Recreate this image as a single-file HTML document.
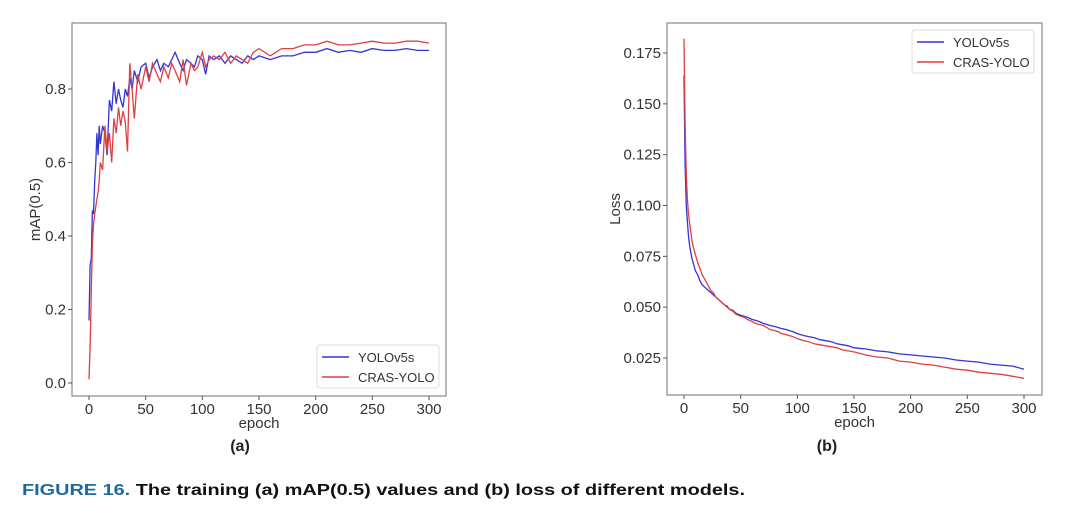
<!DOCTYPE html>
<html><head><meta charset="utf-8"><style>
body{margin:0;background:#fff}
svg text{font-family:"Liberation Sans",sans-serif}
</style></head><body>
<svg id="fig" width="1080" height="523" xmlns="http://www.w3.org/2000/svg">
<rect width="1080" height="523" fill="#fff"/>
<g id="chartA"></g>
<g id="chartB"></g>
<text x="240" y="451" font-size="16" font-weight="bold" text-anchor="middle" fill="#222">(a)</text>
<text x="827" y="451" font-size="16" font-weight="bold" text-anchor="middle" fill="#222">(b)</text>
<text x="22" y="495" font-size="16" font-weight="bold" textLength="723" lengthAdjust="spacingAndGlyphs"><tspan fill="#1f6a9c">FIGURE 16.</tspan><tspan fill="#111">  The training (a) mAP(0.5) values and (b) loss of different models.</tspan></text>
</svg>
<script>
const epochs=[0,1,2,3,4,5,6,7,8,9,10,12,14,16,18,20,22,24,26,28,30,32,34,36,38,40,43,46,50,53,56,60,63,66,70,73,76,80,83,86,90,93,96,100,103,106,110,115,120,125,130,135,140,145,150,160,170,180,190,200,210,220,230,240,250,260,270,280,290,300];
const mapYolo=[0.17,0.32,0.34,0.47,0.46,0.55,0.60,0.68,0.62,0.70,0.65,
0.70,0.68,0.62,0.77,0.74,0.82,0.76,0.80,0.77,0.75,0.80,0.78,0.83,0.80,0.85,
0.82,0.86,0.87,0.83,0.86,0.88,0.85,0.87,0.86,0.88,0.90,0.87,0.85,0.88,0.87,0.86,0.89,0.88,0.84,0.89,0.88,
0.89,0.87,0.89,0.88,0.87,0.89,0.88,0.89,
0.88,0.89,0.89,0.90,0.90,0.91,0.90,0.905,0.90,0.91,0.905,0.905,0.91,0.905,0.905];
const mapCras=[0.01,0.10,0.25,0.38,0.43,0.46,0.48,0.50,0.52,0.55,0.60,
0.58,0.70,0.63,0.68,0.60,0.72,0.68,0.75,0.70,0.74,0.71,0.63,0.87,0.80,0.72,
0.84,0.80,0.86,0.82,0.87,0.84,0.82,0.86,0.83,0.87,0.85,0.82,0.88,0.81,0.87,0.85,0.86,0.90,0.86,0.88,0.89,
0.88,0.90,0.87,0.89,0.88,0.87,0.90,0.91,
0.89,0.91,0.91,0.92,0.92,0.93,0.92,0.92,0.925,0.93,0.925,0.925,0.93,0.93,0.925];
const lossYolo=[0.164,0.12,0.10,0.092,0.085,0.080,0.077,0.074,0.072,0.070,0.068,
0.066,0.063,0.061,0.060,0.059,0.058,0.057,0.056,0.055,0.054,0.053,0.052,0.051,0.0505,0.049,
0.0485,0.047,0.046,0.0455,0.045,0.044,0.0435,0.043,0.042,0.0415,0.041,0.0405,0.040,0.0395,0.039,0.0385,0.038,0.037,0.0365,0.036,0.0355,
0.035,0.034,0.0335,0.033,0.032,0.0315,0.031,0.030,
0.0295,0.0285,0.028,0.027,0.0265,0.026,0.0255,0.025,0.024,0.0235,0.023,0.022,0.0215,0.021,0.0195];
const lossCras=[0.182,0.14,0.115,0.103,0.096,0.091,0.087,0.083,0.080,0.078,0.076,
0.072,0.069,0.066,0.064,0.062,0.060,0.058,0.057,0.055,0.054,0.053,0.052,0.051,0.050,0.049,
0.048,0.0465,0.0455,0.045,0.044,0.043,0.042,0.0415,0.041,0.040,0.039,0.0385,0.038,0.037,0.0365,0.036,0.0355,0.0345,0.034,0.0335,0.033,
0.032,0.0315,0.031,0.0305,0.030,0.029,0.0285,0.028,
0.0265,0.0255,0.025,0.0235,0.023,0.022,0.0215,0.0205,0.0195,0.019,0.018,0.0175,0.017,0.016,0.015];
const xTicks=[0,50,100,150,200,250,300];
const yTicksA=[0.0,0.2,0.4,0.6,0.8];
const yTicksB=[0.025,0.050,0.075,0.100,0.125,0.150,0.175];
const seriesNames=["YOLOv5s","CRAS-YOLO"];
const NS="http://www.w3.org/2000/svg";
function mk(p,tag,at){const e=document.createElementNS(NS,tag);for(const k in at)e.setAttribute(k,at[k]);p.appendChild(e);return e;}
function draw(g,cfg){
  const fr=cfg.frame;
  const sx=v=>cfg.x0+(v-0)/300*(cfg.x1-cfg.x0);
  const sy=v=>cfg.yb+(v-cfg.vb)/(cfg.vt-cfg.vb)*(cfg.yt-cfg.yb);
  const f=mk(g,'rect',{x:fr[0],y:fr[1],width:fr[2]-fr[0],height:fr[3]-fr[1],fill:'none',stroke:'#888','stroke-width':1.2});
  
  
  xTicks.forEach(t=>{const x=sx(t);
    const l=mk(g,'line',{x1:x,x2:x,y1:fr[3],y2:fr[3]+4,stroke:'#555'});
    
    
    const tx=mk(g,'text',{x:x,y:fr[3]+18,'font-size':15,'text-anchor':'middle',fill:'#333'});tx.textContent=t;
    
    });
  cfg.yt_.forEach(t=>{const y=sy(t);
    const l=mk(g,'line',{x1:fr[0]-4,x2:fr[0],y1:y,y2:y,stroke:'#555'});
    
    
    const tx=mk(g,'text',{x:fr[0]-6,y:y+5,'font-size':15,'text-anchor':'end',fill:'#333'});tx.textContent=t.toFixed(cfg.dec);
    
    });
  const xl=mk(g,'text',{x:(fr[0]+fr[2])/2,y:fr[3]+32,'font-size':15,'text-anchor':'middle',fill:'#333'});xl.textContent='epoch';
  
  
  const yl=mk(g,'text',{x:0,y:0,'font-size':15,'text-anchor':'middle',fill:'#333',transform:`translate(${cfg.ylx},${(fr[1]+fr[3])/2}) rotate(-90)`});yl.textContent=cfg.ylab;
  
  
  const cols=['#3434d6','#dd4040'];
  cfg.series.forEach((s,i)=>{
    const d=s.map((v,j)=>(j?'L':'M')+sx(epochs[j]).toFixed(1)+','+sy(v).toFixed(1)).join('');
    const p=mk(g,'path',{d:d,fill:'none',stroke:cols[i],'stroke-width':1.3});
    
    
  });
  const L=cfg.leg;
  const lg=mk(g,'g',{});
  
  
  mk(lg,'rect',{x:L[0],y:L[1],width:122,height:43,rx:3,fill:'#fff',stroke:'#ddd'});
  seriesNames.forEach((n,i)=>{const y=L[1]+12+i*20;
    const en=mk(lg,'g',{});
    
    
    mk(en,'line',{x1:L[0]+5,x2:L[0]+32,y1:y,y2:y,stroke:cols[i],'stroke-width':1.5});
    const t=mk(en,'text',{x:L[0]+41,y:y+5,'font-size':13,fill:'#333'});t.textContent=n;});
}
draw(document.getElementById('chartA'),{frame:[72,23,446,396],x0:89,x1:429,yb:383,vb:0,yt:89,vt:0.8,yt_:yTicksA,dec:1,ylab:'mAP(0.5)',ylx:40,series:[mapYolo,mapCras],leg:[317,345]});
draw(document.getElementById('chartB'),{frame:[667,23,1042,395],x0:684,x1:1024,yb:358,vb:0.025,yt:53,vt:0.175,yt_:yTicksB,dec:3,ylab:'Loss',ylx:620,series:[lossYolo,lossCras],leg:[912,30]});
</script>
</body></html>
